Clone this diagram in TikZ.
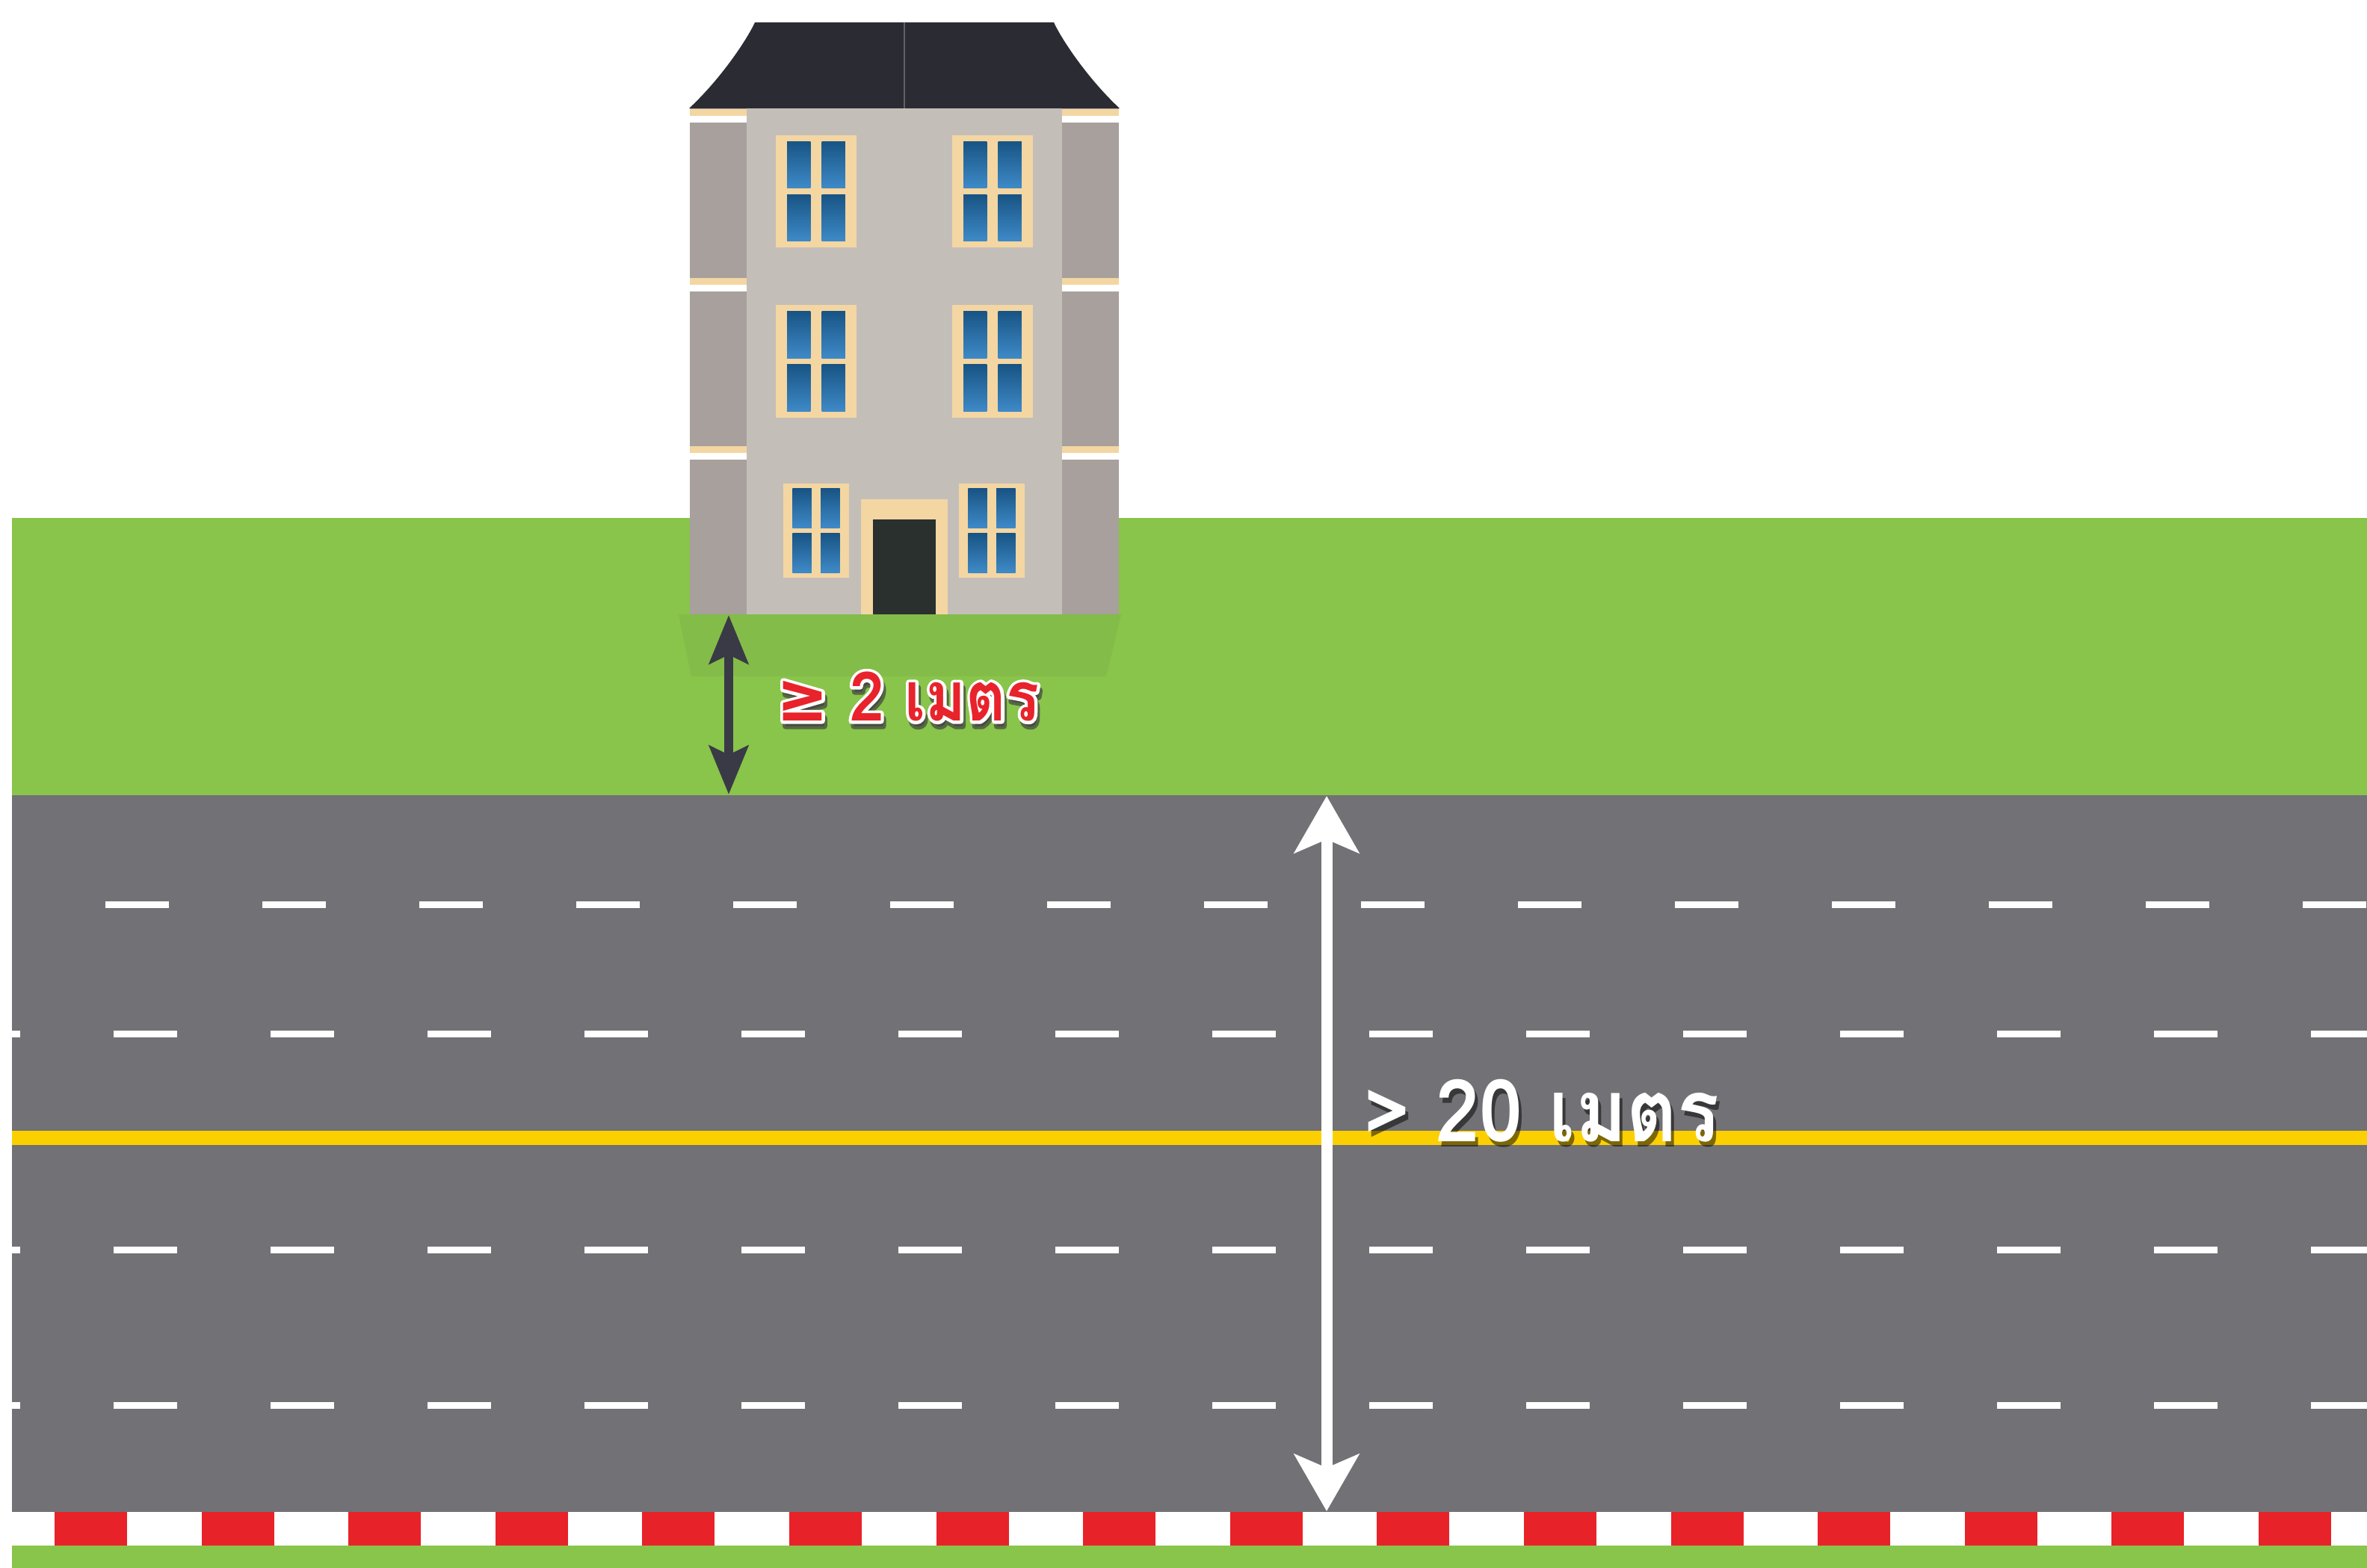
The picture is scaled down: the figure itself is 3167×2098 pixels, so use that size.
\documentclass[tikz,border=0pt]{standalone}
\usepackage{fontspec}
\usetikzlibrary{arrows.meta,calc}
\newfontfamily\thaifont[Script=Thai, FakeStretch=0.9]{Loma}
\newfontfamily\thaihalo[Script=Thai, FakeStretch=0.9, BoldFeatures={FakeBold=9}]{Loma}
\newfontfamily\signfont[FakeStretch=0.9]{DejaVu Sans}
\newfontfamily\signhalo[FakeStretch=0.9, BoldFeatures={FakeBold=9}]{DejaVu Sans}

\definecolor{grass}{RGB}{137,196,75}
\definecolor{asphalt}{RGB}{114,113,117}
\definecolor{curbred}{RGB}{232,34,41}
\definecolor{laneyellow}{RGB}{252,208,0}
\definecolor{roof}{RGB}{43,44,51}
\definecolor{wing}{RGB}{167,160,157}
\definecolor{facade}{RGB}{196,190,185}
\definecolor{trim}{RGB}{243,214,162}
\definecolor{door}{RGB}{42,48,46}
\definecolor{panetop}{RGB}{24,84,132}
\definecolor{panebottom}{RGB}{62,138,200}
\definecolor{gaparrow}{RGB}{58,58,70}
\definecolor{labelred}{RGB}{232,35,43}

\begin{document}
\begin{tikzpicture}[x=0.01cm, y=-0.01cm,
  gap arrow/.style={
    arrows={Stealth[length=0.65cm,width=0.52cm,inset=0.12cm]-Stealth[length=0.65cm,width=0.52cm,inset=0.12cm]},
    draw=gaparrow,
    line width=0.12cm
  },
  width arrow/.style={
    arrows={Stealth[length=0.76cm,width=0.86cm,inset=0.18cm]-Stealth[length=0.76cm,width=0.86cm,inset=0.18cm]},
    draw=white,
    line width=0.15cm
  },
  lanemark/.style={
    draw=white,
    line width=0.09cm
  },
  pane/.style={
    top color=panetop,
    bottom color=panebottom,
    draw=none
  },
  gap label/.style={
    inner sep=0pt,
    line join=round,
    font=\fontsize{26}{30}\selectfont\bfseries
  },
  width label/.style={
    inner sep=0pt,
    line join=round,
    font=\fontsize{33}{36}\selectfont\bfseries
  }]

  \useasboundingbox (0,0) rectangle (3167,2098);
  \fill[white] (0,0) rectangle (3167,2098);

  % verge and shadow of the house
  \fill[grass] (16,693) rectangle (3167,1064);
  \fill[black, fill opacity=0.04] (908,822) -- (1500,822) -- (1480,905) -- (925,905) -- cycle;

  % house
  \fill[roof] (1010,30) -- (1410,30) .. controls (1420,52) and (1455,105) .. (1498,145)
    -- (922,145) .. controls (965,105) and (1000,52) .. (1010,30) -- cycle;
  \draw[roof!75!white, line width=0.02cm] (1210,30) -- (1210,145);
  \fill[wing] (923,145) rectangle (1497,822);
  \fill[facade] (999,145) rectangle (1421,822);
  \foreach \y in {146,372,597} {
    \fill[trim] (923,\y) rectangle (999,\y+9);
    \fill[white] (923,\y+9) rectangle (999,\y+18);
    \fill[trim] (1421,\y) rectangle (1497,\y+9);
    \fill[white] (1421,\y+9) rectangle (1497,\y+18);
  }
  \foreach \cx/\ty/\w/\h in {1092/181/108/150, 1328/181/108/150,
                             1092/408/108/151, 1328/408/108/151,
                             1092/647/88/126, 1327/647/88/126} {
    \pgfmathsetmacro\sx{0.14*\w}
    \pgfmathsetmacro\mw{0.07*\w}
    \pgfmathsetmacro\sy{0.055*\h}
    \pgfmathsetmacro\th{0.028*\h}
    \fill[trim] ({\cx-\w/2},\ty) rectangle ({\cx+\w/2},{\ty+\h});
    \fill[pane] ({\cx-\w/2+\sx},{\ty+\sy}) rectangle ({\cx-\mw},{\ty+\h/2-\th});
    \fill[pane] ({\cx+\mw},{\ty+\sy}) rectangle ({\cx+\w/2-\sx},{\ty+\h/2-\th});
    \fill[pane] ({\cx-\w/2+\sx},{\ty+\h/2+\th}) rectangle ({\cx-\mw},{\ty+\h-\sy});
    \fill[pane] ({\cx+\mw},{\ty+\h/2+\th}) rectangle ({\cx+\w/2-\sx},{\ty+\h-\sy});
  }
  \fill[trim] (1152,668) rectangle (1268,822);
  \fill[door] (1168,695) rectangle (1252,822);

  % road with four lanes
  \fill[asphalt] (16,1064) rectangle (3167,2023);
  \begin{scope}
    \clip (16,1064) rectangle (3167,2023);
    \foreach \k in {0,...,14}
      \draw[lanemark] ({141+210*\k},1210) -- ({226+210*\k},1210);
    \foreach \y in {1383,1672,1880}
      \foreach \k in {-1,...,14}
        \draw[lanemark] ({152+210*\k},\y) -- ({237+210*\k},\y);
  \end{scope}
  \draw[laneyellow, line width=0.19cm] (16,1522) -- (3167,1522);

  % kerb and far verge
  \fill[white] (16,2023) rectangle (3167,2068);
  \foreach \k in {0,...,15}
    \fill[curbred] ({73+196.6*\k},2023) rectangle ({170+196.6*\k},2068);
  \fill[grass] (16,2068) rectangle (3167,2098);

  % setback from the house to the road
  \coordinate (house-foot) at (975,823);
  \coordinate (verge-edge) at (975,1063);
  \draw[gap arrow] (house-foot) -- (verge-edge);

  \coordinate (gap-label) at (1215,932);
  \node[gap label, text=black!75, opacity=0.7] (gap-shadow) at ($(gap-label)+(3,7)$)
    {\signhalo ≥ \thaihalo 2 เมตร};
  \node[gap label, text=white] (gap-halo) at (gap-label)
    {\signhalo ≥ \thaihalo 2 เมตร};
  \node[gap label, text=labelred] (gap-text) at (gap-label)
    {\signfont ≥ \thaifont 2 เมตร};

  % width of the road
  \coordinate (road-top) at (1775,1065);
  \coordinate (road-bottom) at (1775,2022);
  \draw[width arrow] (road-top) -- (road-bottom);

  \coordinate (width-label) at (2063,1486);
  \node[width label, text=black, opacity=0.5] (width-shadow) at ($(width-label)+(4,7)$)
    {\thaifont > 20 เมตร};
  \node[width label, text=white] (width-text) at (width-label) {\thaifont > 20 เมตร};
\end{tikzpicture}
\end{document}
